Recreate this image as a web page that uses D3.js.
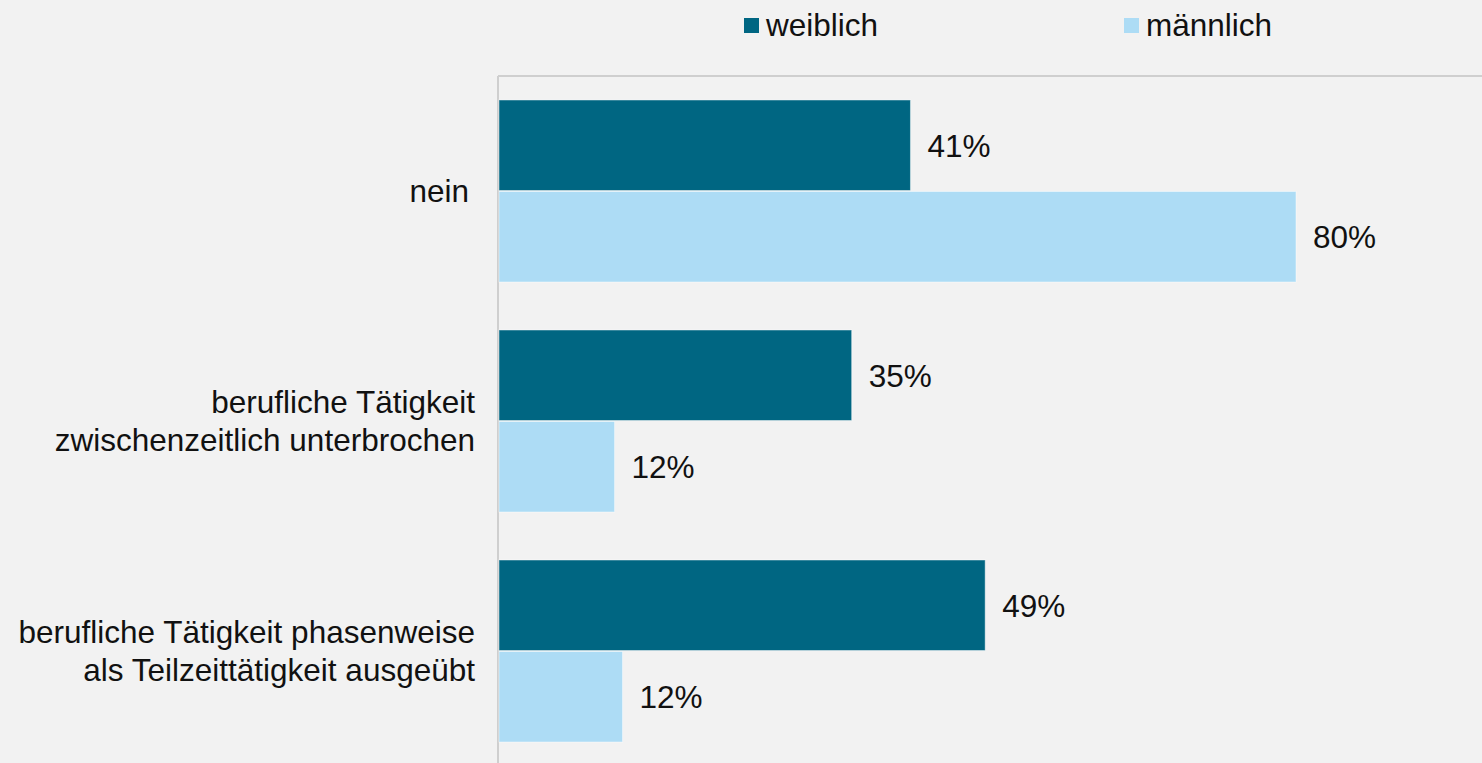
<!DOCTYPE html>
<html>
<head>
<meta charset="utf-8">
<script src="https://cdn.jsdelivr.net/npm/d3@7"></script>
<style>
  html, body { margin: 0; padding: 0; background: #f2f2f2; }
  svg { display: block; font-family: "Liberation Sans", Arial, Helvetica, sans-serif; }
</style>
</head>
<body>
<script>
// Data
const categories = [
  ["nein"],
  ["berufliche Tätigkeit", "zwischenzeitlich unterbrochen"],
  ["berufliche Tätigkeit phasenweise", "als Teilzeittätigkeit ausgeübt"]
];
const seriesNames = ["weiblich", "männlich"];
const weiblich = [41.3, 35.4, 48.8];
const maennlich = [80.0, 11.6, 12.4];
const seriesColors = ["#006682", "#addcf5"];

const W = 1482, H = 763;
const plotLeft = 499, plotTop = 76, plotBottom = 766;
const FS = 31.5;

const svg = d3.select("body").append("svg").attr("width", W).attr("height", H);
svg.append("rect").attr("width", W).attr("height", H).attr("fill", "#f2f2f2");

const catIdx = d3.range(categories.length);
const y = d3.scaleBand().domain(catIdx).range([plotTop, plotBottom]).paddingInner(0.2087).paddingOuter(0.1043);
const x = d3.scaleLinear().domain([0, 80]).range([plotLeft, 1296]);
const ySub = d3.scaleBand().domain([0, 1]).range([0, y.bandwidth()]).paddingInner(0.011);

// frame lines
svg.append("line").attr("x1", plotLeft - 1).attr("x2", W).attr("y1", plotTop).attr("y2", plotTop)
  .attr("stroke", "#cfcfcf").attr("stroke-width", 2);
svg.append("line").attr("x1", plotLeft - 1).attr("x2", plotLeft - 1).attr("y1", plotTop).attr("y2", H)
  .attr("stroke", "#cfcfcf").attr("stroke-width", 2);

const seriesData = [weiblich, maennlich];
seriesData.forEach((vals, s) => {
  const g = svg.append("g");
  g.selectAll("rect").data(vals).join("rect")
    .attr("x", x(0))
    .attr("y", (d, i) => y(i) + ySub(s))
    .attr("width", d => x(d) - x(0))
    .attr("height", ySub.bandwidth())
    .attr("fill", seriesColors[s])
    .attr("stroke", "rgba(255,255,255,0.45)")
    .attr("stroke-width", 1);
  g.selectAll("text").data(vals).join("text")
    .attr("x", d => x(d) + 17)
    .attr("y", (d, i) => y(i) + ySub(s) + ySub.bandwidth() / 2)
    .attr("dy", "0.36em")
    .attr("font-size", FS)
    .attr("fill", "#111")
    .text(d => Math.round(d) + "%");
});

// category labels
const lineH = 38;
categories.forEach((lines, i) => {
  const cy = y(i) + y.bandwidth() / 2;
  const t = svg.append("text")
    .attr("text-anchor", "end")
    .attr("font-size", FS)
    .attr("fill", "#111");
  lines.forEach((ln, k) => {
    t.append("tspan")
      .attr("x", lines.length === 1 ? 469 : 475)
      .attr("y", cy + (k - (lines.length - 1) / 2) * lineH)
      .attr("dy", "0.36em")
      .text(ln);
  });
});

// legend
const legendX = [744, 1124];
seriesNames.forEach((n, s) => {
  svg.append("rect").attr("x", legendX[s]).attr("y", 18).attr("width", 15).attr("height", 15)
    .attr("fill", seriesColors[s]);
  svg.append("text").attr("x", legendX[s] + 22).attr("y", 36)
    .attr("font-size", FS).attr("fill", "#111").text(n);
});
</script>
</body>
</html>
